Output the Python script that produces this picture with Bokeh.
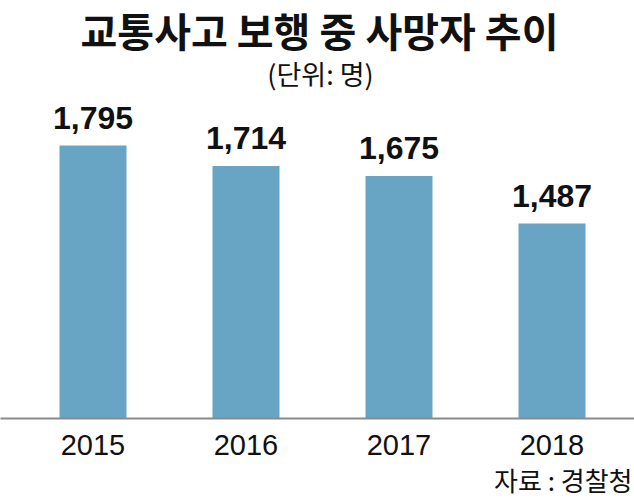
from bokeh.plotting import figure
from bokeh.models import Range1d, FixedTicker, Label, ColumnDataSource, Title
from bokeh.core.properties import value
from bokeh.embed import file_html
from bokeh.resources import INLINE

# ---- data ----
years = ["2015", "2016", "2017", "2018"]
deaths = [1795, 1714, 1675, 1487]
labels = [f"{v:,}" for v in deaths]
idx = list(range(len(years)))

title_text = "교통사고 보행 중 사망자 추이"
unit_text = "(단위: 명)"
source_text = "자료 : 경찰청"

# ---- layout ----
W, H = 634, 500
frame_h = 418
y0 = 717
px_per_unit = 0.2532
spacing = 153.0
first_center = 92.5

x_start = -first_center / spacing
x_end = x_start + W / spacing

p = figure(width=W, height=H, output_backend="svg", toolbar_location=None,
           x_range=Range1d(x_start, x_end),
           y_range=Range1d(y0, y0 + frame_h / px_per_unit),
           min_border_left=0, min_border_right=0, min_border_top=0,
           min_border_bottom=H - frame_h, y_axis_location=None,
           outline_line_color=None, background_fill_color="white",
           border_fill_color="white")
p.grid.visible = False

src = ColumnDataSource(dict(x=idx, top=deaths, label=labels))
p.vbar(x="x", top="top", bottom=y0, width=67 / spacing, source=src,
       fill_color="#68a5c4", line_color=None)

p.text(x="x", y="top", text="label", source=src, text_align="center",
       text_baseline="alphabetic", y_offset=-28,
       text_font=value("Liberation Sans"), text_font_style="bold",
       text_font_size="32px", text_color="#111111")

ax = p.xaxis[0]
ax.ticker = FixedTicker(ticks=idx)
ax.major_label_overrides = {i: y for i, y in zip(idx, years)}
ax.major_tick_out = 0
ax.major_tick_in = 0
ax.minor_tick_out = 0
ax.minor_tick_in = 0
ax.axis_line_color = "#8a8a8a"
ax.axis_line_width = 2
ax.major_label_text_font = "Liberation Sans"
ax.major_label_text_font_size = "29px"
ax.major_label_text_color = "#111111"
ax.major_label_standoff = 16

p.add_layout(Label(x=319, y=frame_h, x_units="screen", y_units="screen",
                   text=title_text, text_align="center", text_baseline="top",
                   text_font="Noto Sans CJK KR", text_font_style="bold",
                   text_font_size="40px", text_color="#111111"))
p.add_layout(Label(x=320, y=frame_h - 53, x_units="screen", y_units="screen",
                   text=unit_text, text_align="center", text_baseline="top",
                   text_font="Noto Sans CJK KR", text_font_size="27px",
                   text_color="#111111"))

src_title = Title(text=source_text, align="right", standoff=3, offset=2,
                  text_font="Noto Sans CJK KR", text_font_style="normal",
                  text_font_size="26px", text_color="#111111")
p.add_layout(src_title, "below")

open("out.html", "w").write(file_html(p, INLINE))
